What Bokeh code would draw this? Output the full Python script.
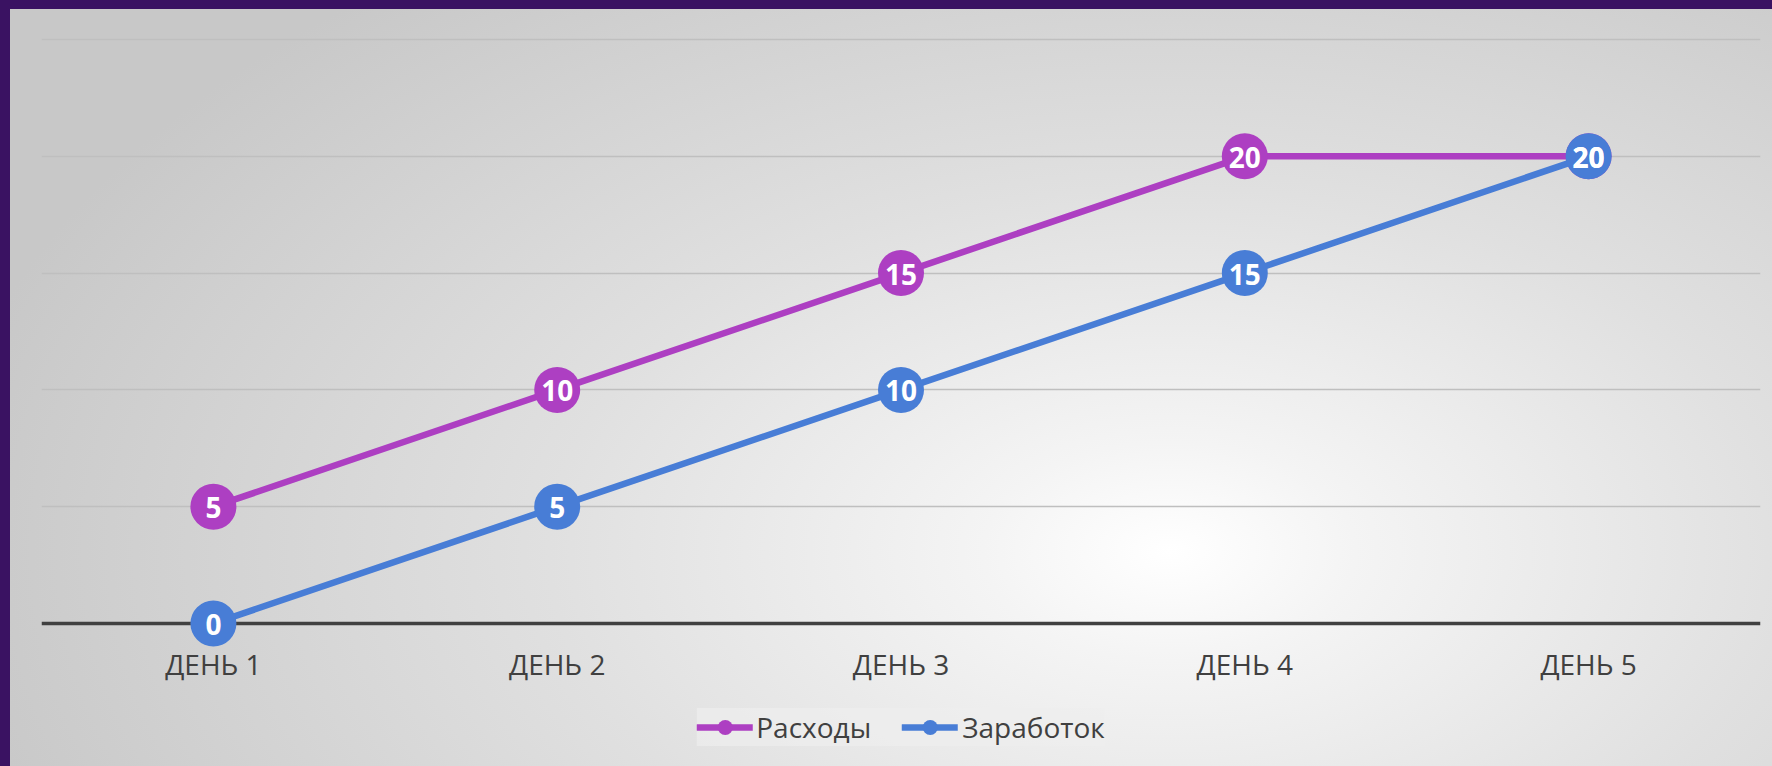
from bokeh.plotting import figure
from bokeh.models import (FactorRange, Range1d, FixedTicker, Span, Legend, LegendItem,
                          ColumnDataSource, Grid)
from bokeh.core.properties import value
from bokeh.embed import file_html
from bokeh.resources import INLINE

# ---- data ----
days = ["ДЕНЬ 1", "ДЕНЬ 2", "ДЕНЬ 3", "ДЕНЬ 4", "ДЕНЬ 5"]
expenses = [5, 10, 15, 20, 20]      # Расходы
earnings = [0, 5, 10, 15, 20]       # Заработок
series_names = ["Расходы", "Заработок"]
grid_ticks = [5, 10, 15, 20, 25]

PURPLE = "#ad3fc2"
BLUE = "#487dd6"
TEXT = "#404040"
FONT = "Open Sans"

p = figure(width=1772, height=766,
           x_range=FactorRange(factors=days),
           y_range=Range1d(-6.124, 26.028),
           y_axis_location=None,
           output_backend="svg", toolbar_location=None,
           min_border_left=41, min_border_right=12,
           min_border_top=15, min_border_bottom=0)

p.background_fill_color = None
p.border_fill_color = None
p.outline_line_color = None
p.styles = {
    "background": "radial-gradient(ellipse 70% 95% at 66% 72%, #ffffff 0%, #f4f4f4 15%, #e0e0e0 50%, #c8c8c8 100%)",
    "box-shadow": "inset 10px 9px 0 0 #3a1262",
}

for g in p.grid:
    g.visible = False
p.add_layout(Grid(dimension=1, ticker=FixedTicker(ticks=grid_ticks),
                  grid_line_color="#bfbfbf", grid_line_width=1.3))

zero = Span(location=0, dimension="width", line_color=TEXT, line_width=3.5, level="underlay")
p.add_layout(zero)

src_e = ColumnDataSource(dict(x=days, y=expenses, t=[str(v) for v in expenses]))
src_r = ColumnDataSource(dict(x=days, y=earnings, t=[str(v) for v in earnings]))

l1 = p.line("x", "y", source=src_e, line_color=PURPLE, line_width=6.5, line_cap="round")
m1 = p.scatter("x", "y", source=src_e, size=46, fill_color=PURPLE, line_color=None)
l2 = p.line("x", "y", source=src_r, line_color=BLUE, line_width=6.5, line_cap="round")
m2 = p.scatter("x", "y", source=src_r, size=46, fill_color=BLUE, line_color=None)

for src in (src_e, src_r):
    p.text("x", "y", text="t", source=src, text_color="white",
           text_font=value(FONT), text_font_style="bold", text_font_size="28px",
           text_align="center", text_baseline="middle", y_offset=1)

ax = p.xaxis[0]
ax.fixed_location = 0
ax.axis_line_color = None
ax.major_tick_line_color = None
ax.major_tick_in = 0
ax.major_tick_out = 0
ax.major_label_text_font = FONT
ax.major_label_text_font_size = "28px"
ax.major_label_text_color = TEXT
ax.major_label_standoff = 22

legend = Legend(items=[LegendItem(label=series_names[0], renderers=[l1, m1]),
                       LegendItem(label=series_names[1], renderers=[l2, m2])],
                location="bottom_center", orientation="horizontal",
                background_fill_color="#eeeeee", background_fill_alpha=0.7,
                border_line_color=None,
                label_text_font=FONT, label_text_font_size="28px", label_text_color=TEXT,
                glyph_width=56, glyph_height=38, label_standoff=4, spacing=31,
                padding=8, margin=20)
p.add_layout(legend, "center")

open("out.html", "w").write(file_html(p, INLINE))
